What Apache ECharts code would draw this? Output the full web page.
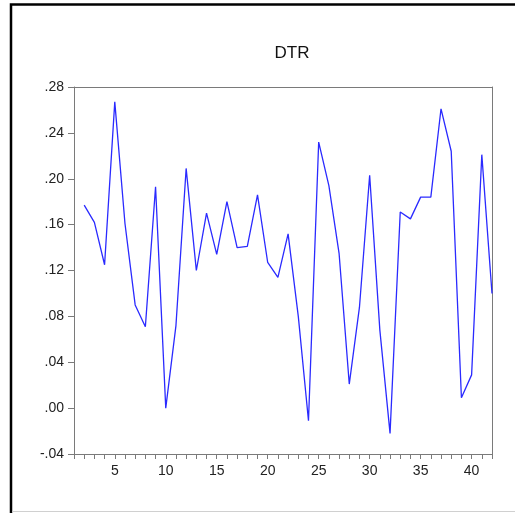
<!DOCTYPE html>
<html>
<head>
<meta charset="utf-8">
<script src="https://cdn.jsdelivr.net/npm/echarts@6/dist/echarts.min.js"></script>
<style>
html,body{margin:0;padding:0;background:#fff;}
#c{width:515px;height:514px;}
</style>
</head>
<body>
<div id="c"></div>
<script>
var titleText = 'DTR';
var obs = [2,3,4,5,6,7,8,9,10,11,12,13,14,15,16,17,18,19,20,21,22,23,24,25,26,27,28,29,30,31,32,33,34,35,36,37,38,39,40,41,42];
var dtr = [0.177,0.162,0.125,0.267,0.161,0.090,0.071,0.193,0.000,0.072,0.209,0.120,0.170,0.134,0.180,0.140,0.141,0.186,0.127,0.114,0.152,0.080,-0.011,0.232,0.194,0.135,0.021,0.088,0.203,0.068,-0.022,0.171,0.165,0.184,0.184,0.261,0.224,0.009,0.029,0.221,0.100];
var xTickLabels = [5,10,15,20,25,30,35,40];
var xCategories = [1,2,3,4,5,6,7,8,9,10,11,12,13,14,15,16,17,18,19,20,21,22,23,24,25,26,27,28,29,30,31,32,33,34,35,36,37,38,39,40,41,42];
var yTickLabels = [-0.04,0.00,0.04,0.08,0.12,0.16,0.20,0.24,0.28];

var chart = echarts.init(document.getElementById('c'), null, {renderer:'canvas'});
var font = 'Liberation Sans, Arial, sans-serif';
function fmtY(v){
  var s = (Math.round(v*100)/100).toFixed(2);
  return s.replace(/^(-?)0\./, '$1.');
}
var axisCol = '#7a7a7a';
chart.setOption({
  animation:false,
  backgroundColor:'#fff',
  title:{text:titleText,left:287,top:40,textAlign:'center',
    textStyle:{fontFamily:font,fontSize:17,fontWeight:'normal',color:'#111'}},
  grid:{left:74,top:87,right:23,bottom:60,show:false},
  xAxis:[{type:'category',data:xCategories.map(String),boundaryGap:false,position:'bottom',
    axisLine:{show:true,onZero:false,lineStyle:{color:axisCol,width:1}},
    axisTick:{show:true,interval:0,length:5,inside:false,lineStyle:{color:axisCol,width:1}},
    axisLabel:{show:true,interval:function(i,v){return xTickLabels.indexOf(Number(v))>=0;},margin:10,fontFamily:font,fontSize:14,color:'#222'},
    splitLine:{show:false}},
    {type:'category',data:xCategories.map(String),boundaryGap:false,position:'top',
    axisLine:{show:true,onZero:false,lineStyle:{color:axisCol,width:1}},
    axisTick:{show:false},axisLabel:{show:false},splitLine:{show:false}}],
  yAxis:[{type:'value',min:yTickLabels[0],max:yTickLabels[yTickLabels.length-1],interval:0.04,position:'left',
    axisLine:{show:true,onZero:false,lineStyle:{color:axisCol,width:1}},
    axisTick:{show:true,length:6,lineStyle:{color:axisCol}},
    axisLabel:{margin:10,fontFamily:font,fontSize:14,color:'#222',formatter:fmtY},
    splitLine:{show:false}},
    {type:'value',min:yTickLabels[0],max:yTickLabels[yTickLabels.length-1],interval:0.04,position:'right',
    axisLine:{show:true,onZero:false,lineStyle:{color:axisCol,width:1}},
    axisTick:{show:false},axisLabel:{show:false},splitLine:{show:false}}],
  series:[{type:'line',xAxisIndex:0,yAxisIndex:0,data:obs.map(function(x,i){return [String(x),dtr[i]];}),
    showSymbol:false,symbol:'none',lineStyle:{color:'#2a2aff',width:1.3},clip:true}],
  graphic:[
    {type:'polyline',shape:{points:[[11,513],[11,4.5],[515,4.5]]},style:{stroke:'#000',lineWidth:2.5,fill:null},z:100},
    {type:'line',shape:{x1:12,y1:511.5,x2:515,y2:511.5},style:{stroke:'#d0d0d0',lineWidth:1},z:100}
  ]
});
</script>
</body>
</html>
